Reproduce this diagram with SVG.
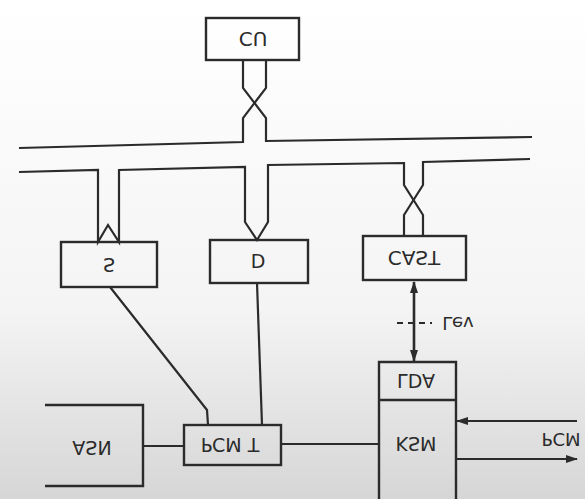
<svg xmlns="http://www.w3.org/2000/svg" width="585" height="499" viewBox="0 0 585 499">
<defs>
<linearGradient id="paper" x1="0" y1="0" x2="0" y2="1">
<stop offset="0" stop-color="#ffffff"/>
<stop offset="0.62" stop-color="#f4f4f4"/>
<stop offset="1" stop-color="#d6d6d6"/>
</linearGradient>
<marker id="ah" viewBox="0 0 12 8" refX="11" refY="4" markerWidth="12" markerHeight="8" markerUnits="userSpaceOnUse" orient="auto-start-reverse">
<path d="M0,0 L12,4 L0,8 Z" fill="#2b2b2b"/>
</marker>
<style>
.ln{fill:none;stroke:#2b2b2b;stroke-width:2.2;stroke-linejoin:miter}
.box{fill:none;stroke:#2b2b2b;stroke-width:2.4}
.t{font-family:"DejaVu Sans","Liberation Sans",sans-serif;font-size:19px;fill:#2b2b2b;text-anchor:middle;dominant-baseline:central}
</style>
</defs>
<rect x="0" y="0" width="585" height="499" fill="url(#paper)"/>

<g id="connectors">
<path class="ln" d="M266,60 V88 L243,118 V142 L19,148"/>
<path class="ln" d="M243,60 V88 L266,118 V141 L532,137"/>
<path class="ln" d="M19,172 L98,170 V242 L108,225 L119,242 V170 L245,167 V222 L257,240 L268,222 V165 L404,163 V185 L423,215 V236"/>
<path class="ln" d="M404,236 V215 L423,185 V162 L530,159"/>
<path class="ln" d="M110,287 L207,410 L208,425"/>
<path class="ln" d="M257,283 L262,425"/>
<path class="ln" d="M144,446 H184"/>
<path class="ln" d="M281,444 H379"/>
<line class="ln" x1="414" y1="282" x2="414" y2="361" marker-start="url(#ah)" marker-end="url(#ah)" style="stroke-width:2.6"/>
<line class="ln" x1="397" y1="323" x2="432" y2="323" stroke-dasharray="6,5"/>
<line class="ln" x1="577" y1="421" x2="457" y2="421" marker-end="url(#ah)"/>
<line class="ln" x1="457" y1="459" x2="577" y2="459" marker-end="url(#ah)"/>
<text class="t" transform="translate(458,323) scale(1,-1)" style="font-size:18px">Lev</text>
<text class="t" transform="translate(561,439) scale(1,-1)" style="font-size:18px">PCM</text>
</g>

<g id="CU">
<rect class="box" x="206" y="18" width="93" height="42"/>
<text class="t" transform="translate(253,39) scale(1,-1)" style="font-size:20px">CU</text>
</g>
<g id="S">
<rect class="box" x="61" y="242" width="96" height="45"/>
<text class="t" transform="translate(109,265) scale(1,-1)">S</text>
</g>
<g id="D">
<rect class="box" x="210" y="240" width="98" height="43"/>
<text class="t" transform="translate(258,261) scale(1,-1)">D</text>
</g>
<g id="CAST">
<rect class="box" x="363" y="236" width="103" height="44"/>
<text class="t" transform="translate(414,258) scale(1,-1)" style="font-size:20px">CAST</text>
</g>
<g id="LDA-KSM">
<path class="box" d="M379,505 V362 H456 V505"/>
<line class="box" x1="379" y1="400" x2="456" y2="400"/>
<text class="t" transform="translate(416,381) scale(1,-1)">LDA</text>
<text class="t" transform="translate(416,444) scale(1,-1)">KSM</text>
</g>
<g id="PCM-T">
<rect class="box" x="184" y="425" width="97" height="40"/>
<text class="t" transform="translate(230,445) scale(1,-1)">PCM  T</text>
</g>
<g id="ASN">
<path class="box" d="M45,405 H143 V486 H45"/>
<text class="t" transform="translate(92,448) scale(1,-1)">ASN</text>
</g>
</svg>
